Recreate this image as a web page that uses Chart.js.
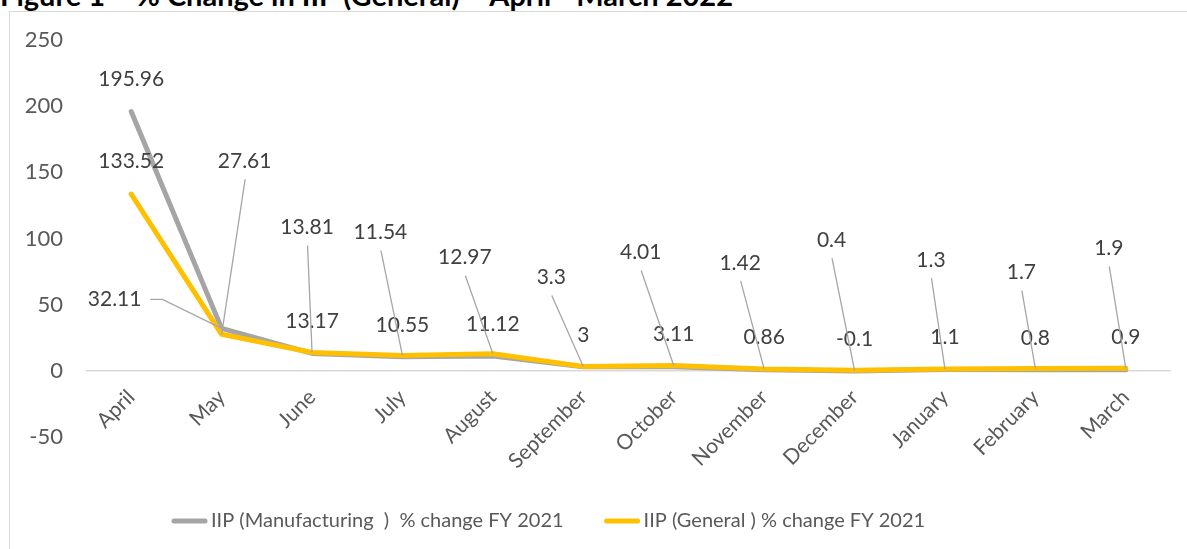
<!DOCTYPE html>
<html><head><meta charset="utf-8">
<script src="https://cdn.jsdelivr.net/npm/chart.js@4.4.1/dist/chart.umd.min.js"></script>
<style>
html,body{margin:0;padding:0;background:#fff;overflow:hidden;}
#wrap{position:relative;width:1187px;height:549px;overflow:hidden;background:#fff;}
#title{position:absolute;left:0;top:-20px;font:bold 29px/29px Lato,'Open Sans',sans-serif;color:#000;white-space:nowrap;}
#frame{position:absolute;left:9px;top:11px;width:1200px;height:600px;border:1px solid #d9d9d9;box-sizing:border-box;}
canvas{position:absolute;left:0;top:0;}
</style></head>
<body><div id="wrap"><div id="title">Figure 1 – % Change in IIP (General) – April - March 2022</div><div id="frame"></div><canvas id="c" width="1187" height="549"></canvas></div>
<script>
const months = ['April','May','June','July','August','September','October','November','December','January','February','March'];
const manufacturing = [195.96, 32.11, 13.17, 10.55, 11.12, 3, 3.11, 0.86, -0.1, 1.1, 0.8, 0.9];
const general = [133.52, 27.61, 13.81, 11.54, 12.97, 3.3, 4.01, 1.42, 0.4, 1.3, 1.7, 1.9];
const seriesNames = ['IIP (Manufacturing  )  % change FY 2021', 'IIP (General ) % change FY 2021'];
const yTicks = [-50, 0, 50, 100, 150, 200, 250];

// label placement (style only): pixel offsets of each data label from its point
const manuLabelOffsets = [[0,-32],[-107,-29],[0,-32],[0,-32],[0,-32],[0,-32],[0,-32],[0,-32],[0,-32],[0,-32],[0,-32],[0,-32]];
const genLabelOffsets = [[0,-33],[23,-173],[-5,-125],[-22,-123],[-28,-96],[-32,-89],[-33,-113],[-24,-106],[-23,-130],[-14,-109],[-14,-96],[-17,-120]];

const FONT = "Lato, 'Open Sans', sans-serif";
const GRAY = '#a5a5a5', GOLD = '#ffc000';

const labelPlugin = {
  id: 'dataLabels',
  afterDatasetsDraw(chart) {
    const ctx = chart.ctx;
    ctx.save();
    ctx.font = '21px ' + FONT;
    ctx.textAlign = 'center';
    ctx.textBaseline = 'middle';
    const sets = [[0, manufacturing, manuLabelOffsets], [1, general, genLabelOffsets]];
    sets.forEach(([di, vals, offs]) => {
      const meta = chart.getDatasetMeta(di);
      meta.data.forEach((pt, i) => {
        const [dx, dy] = offs[i];
        const lx = pt.x + dx, ly = pt.y + dy;
        const txt = String(vals[i]);
        ctx.strokeStyle = '#a6a6a6';
        ctx.lineWidth = 1.3;
        if (di === 0 && dx < -50) {
          const w = ctx.measureText(txt).width;
          const sx = lx + w / 2 + 9;
          ctx.beginPath();
          ctx.moveTo(sx, ly);
          ctx.lineTo(sx + 12, ly);
          ctx.lineTo(pt.x, pt.y);
          ctx.stroke();
        } else if (di === 1 && Math.abs(dy) > 60) {
          ctx.beginPath();
          ctx.moveTo(lx + 0.5, ly + 18);
          ctx.lineTo(pt.x, pt.y);
          ctx.stroke();
        }
        ctx.fillStyle = '#404040';
        ctx.fillText(txt, lx, ly);
      });
    });
    ctx.restore();
  }
};

const legendPlugin = {
  id: 'bottomLegend',
  afterDraw(chart) {
    const ctx = chart.ctx;
    ctx.save();
    ctx.font = '20px ' + FONT;
    ctx.textBaseline = 'middle';
    ctx.textAlign = 'left';
    const y = 521, sample = 35, textGap = 4, itemGap = 41;
    const cols = [GRAY, GOLD];
    const widths = seriesNames.map(t => ctx.measureText(t).width);
    let x = 172;
    seriesNames.forEach((t, i) => {
      ctx.strokeStyle = cols[i];
      ctx.lineWidth = 5;
      ctx.lineCap = 'round';
      ctx.beginPath();
      ctx.moveTo(x + 2, y);
      ctx.lineTo(x + sample - 2, y);
      ctx.stroke();
      ctx.fillStyle = '#595959';
      ctx.fillText(t, x + sample + textGap, y);
      x += sample + textGap + widths[i] + itemGap;
    });
    ctx.restore();
  }
};

new Chart(document.getElementById('c'), {
  type: 'line',
  data: {
    labels: months,
    datasets: [
      { label: seriesNames[0], data: manufacturing, borderColor: GRAY, backgroundColor: GRAY,
        borderWidth: 5, pointRadius: 0, borderJoinStyle: 'round', borderCapStyle: 'round', order: 2 },
      { label: seriesNames[1], data: general, borderColor: GOLD, backgroundColor: GOLD,
        borderWidth: 5, pointRadius: 0, borderJoinStyle: 'round', borderCapStyle: 'round', order: 1 }
    ]
  },
  options: {
    responsive: false,
    animation: false,
    layout: { padding: { left: 0, right: 16, top: 40, bottom: 112 } },
    plugins: {
      title: { display: false },
      tooltip: { enabled: false },
      legend: { display: false }
    },
    scales: {
      x: {
        position: { y: 0 },
        offset: true,
        grid: { display: false },
        border: { display: false },
        ticks: { maxRotation: 45, minRotation: 45, color: '#595959', font: { family: FONT, size: 21 }, padding: 6, autoSkip: false }
      },
      y: {
        min: -50, max: 250,
        afterBuildTicks: (s) => { s.ticks = yTicks.map(v => ({ value: v })); },
        grid: { drawTicks: false, color: (c) => c.tick && c.tick.value === 0 ? '#d9d9d9' : 'rgba(0,0,0,0)', lineWidth: 1.5 },
        border: { display: false },
        ticks: { color: '#595959', font: { family: FONT, size: 22 }, padding: 23 },
        afterFit: (s) => { s.width = 86; }
      }
    }
  },
  plugins: [labelPlugin, legendPlugin]
});
</script>
</body></html>
